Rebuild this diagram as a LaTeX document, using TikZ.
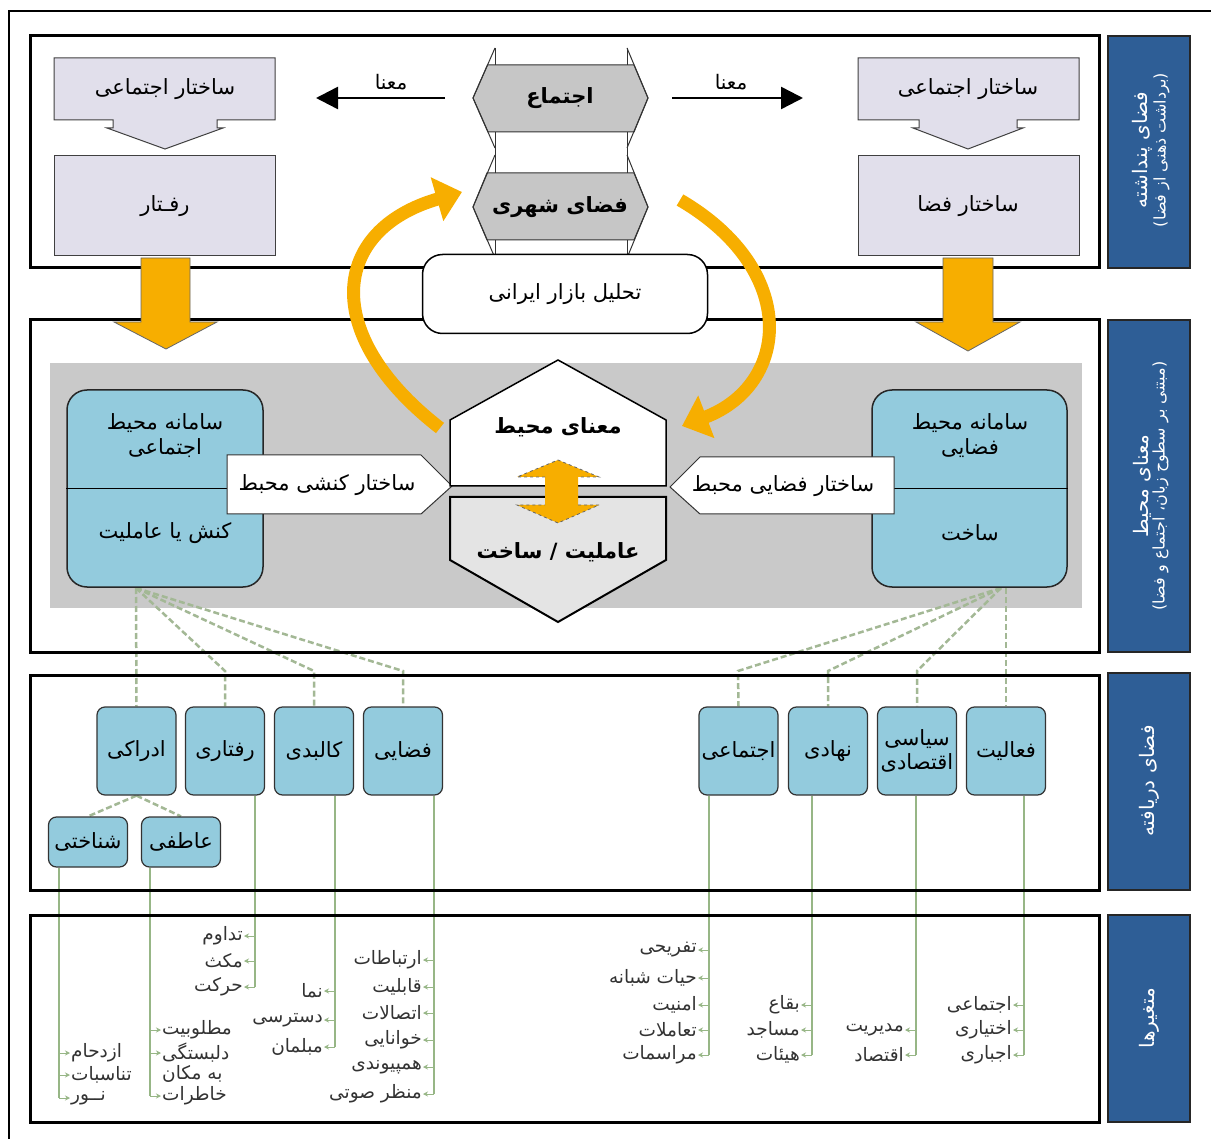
\documentclass[tikz,border=0pt]{standalone}
\usepackage{fontspec}
\setmainfont[Script=Arabic]{DejaVu Sans}
\TeXXeTstate=1
\usetikzlibrary{arrows.meta,calc}
\newcommand\fa[1]{\beginR #1\endR}
\newcommand\fsA{\fontsize{21}{25}\selectfont}
\newcommand\fsB{\fontsize{21}{24}\selectfont}
\newcommand\fsC{\fontsize{18.5}{20}\selectfont}
\newcommand\fsT{\fontsize{20}{23}\selectfont}
\newcommand\fsD{\fontsize{16}{19}\selectfont}
\newcommand\fsH{\fontsize{21}{25}\selectfont\bfseries}
\definecolor{lavc}{HTML}{E1DFEB}
\definecolor{hexgray}{HTML}{C6C6C6}
\definecolor{areagray}{HTML}{C9C9C9}
\definecolor{lowgray}{HTML}{E4E4E4}
\definecolor{lbluec}{HTML}{93CBDD}
\definecolor{navyc}{HTML}{2E5E96}
\definecolor{orng}{HTML}{F7AE00}
\definecolor{grnc}{HTML}{97B686}
\definecolor{dgrnc}{HTML}{A3B895}
\pgfdeclarelayer{bgzero}
\pgfdeclarelayer{bgone}
\pgfsetlayers{bgzero,bgone,main}
\begin{document}
\begin{tikzpicture}[x=1pt,y=-1pt,
  panel/.style={draw=black,line width=3pt},
  navybox/.style={draw=black!85,fill=navyc,line width=1.5pt},
  lavbox/.style={draw=black!75,fill=lavc,line width=1pt},
  txt/.style={inner sep=1pt,font=\fsA},
  cat/.style={draw=black!80,fill=lbluec,rounded corners=8pt,line width=1.2pt,minimum width=79pt,minimum height=88pt,inner sep=0pt,font=\fsB,align=center},
  subcat/.style={cat,minimum height=50pt},
  bluebig/.style={draw=black!85,fill=lbluec,rounded corners=20pt,line width=1.5pt,minimum width=196pt,minimum height=197pt,inner sep=0pt},
  ptr/.style={draw=black!80,fill=white,line width=1pt},
  dline/.style={draw=dgrnc,line width=2.5pt,dash pattern=on 6pt off 3pt},
  gline/.style={draw=grnc,line width=1.5pt},
  stub/.style={draw=grnc,line width=1pt,-{Stealth[length=5pt,width=5pt]}},
  itemL/.style={anchor=east,inner sep=1pt,font=\fsC,text=black!80},
  itemR/.style={anchor=west,inner sep=1pt,font=\fsC,text=black!80,align=left},
  vlabel/.style={rotate=90,text=white,align=center,inner sep=0pt},
  orarrow/.style={draw=black!60,fill=orng,line width=0.8pt},
  arc/.style={draw=orng,line width=13pt,-{Triangle[length=26pt,width=44pt]}},
  hexl/.style={draw=black!80,line width=1pt}
]
\useasboundingbox (0,0) rectangle (1211,1139);
\begin{pgfonlayer}{bgzero}
\fill[white] (0,0) rectangle (1211,1139);
\fill[areagray] (50,363) rectangle (1082,608);
\end{pgfonlayer}
\draw[line width=1.5pt] (1211,11) -- (9,11) -- (9,1139);
% panels
\draw[panel] (30,36) rectangle (1099,268);
\draw[panel] (30,320) rectangle (1099,652);
\draw[panel] (30,675) rectangle (1099,890);
\draw[panel] (30,915) rectangle (1099,1122);
% side labels
\draw[navybox] (1108,36) rectangle (1190,268);
\draw[navybox] (1108,320) rectangle (1190,652);
\draw[navybox] (1108,673) rectangle (1190,890);
\draw[navybox] (1108,915) rectangle (1190,1122);
\node[vlabel] (lab1) at (1151,150) {{\fsT\fa{فضای پنداشته}}\\{\fsD\fa{(برداشت ذهنی از فضا)}}};
\node[vlabel] (lab2) at (1151,486) {{\fsT\fa{معنای محیط}}\\{\fsD\fa{(مبتنی بر سطوح زبان، اجتماع و فضا)}}};
\node[vlabel,font=\fsT] (lab3) at (1149,781) {\fa{فضای دریافته}};
\node[vlabel,font=\fsT] (lab4) at (1149,1018) {\fa{متغیرها}};
% panel 1 left
\draw[lavbox] (54,58) -- (275,58) -- (275,120) -- (217,120) -- (217,128) -- (223,128) -- (165,149) -- (107,128) -- (113,128) -- (113,120) -- (54,120) -- cycle;
\node[txt] (lt1) at (165,89) {\fa{ساختار اجتماعی}};
\draw[lavbox] (54,156) rectangle (275,256);
\node[txt] (lt2) at (165,206) {\fa{رفـتار}};
% panel 1 right
\draw[lavbox] (858,58) -- (1079,58) -- (1079,120) -- (1017,120) -- (1017,128) -- (1023,128) -- (968,149) -- (913,128) -- (919,128) -- (919,120) -- (858,120) -- cycle;
\node[txt] (rt1) at (968,89) {\fa{ساختار اجتماعی}};
\draw[lavbox] (858,156) rectangle (1079,256);
\node[txt] (rt2) at (968,206) {\fa{ساختار فضا}};
% center hexes panel 1
\fill[white] (495,48) rectangle (627,258);
\draw[hexl,fill=hexgray] (487.5,65) -- (634,65) -- (648,98) -- (634,132) -- (488,132) -- (473,98) -- cycle;
\draw[hexl,fill=hexgray] (487,173) -- (634,173) -- (648,207) -- (634,240) -- (487,240) -- (473,207) -- cycle;
\draw[hexl] (495,48) -- (473,98) -- (495,148);
\draw[hexl] (627,48) -- (648,98) -- (627,148);
\draw[hexl] (495,155) -- (473,207) -- (495,258);
\draw[hexl] (627,155) -- (648,207) -- (627,258);
\draw[hexl] (495,48) -- (495,65) (627,48) -- (627,65);
\draw[hexl] (495,132) -- (495,173) (627,132) -- (627,173);
\draw[hexl] (495,240) -- (495,258) (627,240) -- (627,258);
\node[txt,font=\fsH] (ejtm) at (560,98) {\fa{اجتماع}};
\node[txt,font=\fsH] (fsh) at (560,207) {\fa{فضای شهری}};
% meaning arrows
\node[txt,font=\fsT] (mL) at (391,82) {\fa{معنا}};
\node[txt,font=\fsT] (mR) at (731,82) {\fa{معنا}};
\coordinate (aL1) at (445,98); \coordinate (aL2) at (316,98);
\coordinate (aR1) at (672,98); \coordinate (aR2) at (803,98);
\draw[line width=2.5pt,-{Triangle[length=22pt,width=22pt]}] (aL1) -- (aL2);
\draw[line width=2.5pt,-{Triangle[length=22pt,width=22pt]}] (aR1) -- (aR2);
% orange down arrows
\draw[orarrow] (141,258) -- (190,258) -- (190,322) -- (217,322) -- (166,349) -- (114,322) -- (141,322) -- cycle;
\draw[orarrow] (943,258) -- (993,258) -- (993,322) -- (1020,322) -- (968,351) -- (916,322) -- (943,322) -- cycle;
% tahlil
\node[draw,line width=1.5pt,fill=white,rounded corners=20pt,minimum width=285pt,minimum height=79pt,font=\fsA] (tahlil) at (565,294) {\fa{تحلیل بازار ایرانی}};
% panel 2
\node[bluebig] (lbox) at (165,488.5) {};
\draw[line width=1.5pt] (lbox.west) -- (lbox.east);
\node[txt,align=center] (lb1) at (165,436) {\fa{سامانه محیط}\\\fa{اجتماعی}};
\node[txt] (lb2) at (165,533) {\fa{کنش یا عاملیت}};
\node[bluebig,minimum width=195pt] (rbox) at (969.5,488.5) {};
\draw[line width=1.5pt] (rbox.west) -- (rbox.east);
\node[txt,align=center] (rb1) at (970,436) {\fa{سامانه محیط}\\\fa{فضایی}};
\node[txt] (rb2) at (970,533) {\fa{ساخت}};
\draw[ptr] (227,455) -- (421,455) -- (452,486) -- (421,514) -- (227,514) -- cycle;
\node[txt] (p1) at (327,485) {\fa{ساختار کنشی محبط}};
\draw[ptr] (894,457) -- (700,457) -- (670,487) -- (700,514) -- (894,514) -- cycle;
\node[txt] (p2) at (783,486) {\fa{ساختار فضایی محبط}};
\draw[line width=1.5pt,fill=white] (450,486) -- (450,420) -- (558,360) -- (666,420) -- (666,486) -- cycle;
\draw[line width=2pt,fill=lowgray] (450,497) -- (666,497) -- (666,560) -- (558,622) -- (450,560) -- cycle;
\node[txt,font=\fsH] (hm) at (558,427) {\fa{معنای محیط}};
\node[txt,font=\fsH] (ha) at (558,552) {\fa{عاملیت / ساخت}};
\fill[orng] (545,477) -- (517,477) -- (558,460) -- (599,477) -- (578,477) -- (578,505) -- (599,505) -- (558,523) -- (517,505) -- (545,505) -- cycle;
\draw[black!60,dashed,line width=0.8pt] (545,477) -- (517,477) -- (558,460) -- (599,477) -- (578,477);
\draw[black!60,dashed,line width=0.8pt] (578,505) -- (599,505) -- (558,523) -- (517,505) -- (545,505);
% orange arcs
\coordinate (arcL1) at (440,428); \coordinate (arcL2) at (462,192);
\coordinate (arcR1) at (680,200); \coordinate (arcR2) at (682,426);
\draw[arc] (arcL1) .. controls (320,335) and (330,230) .. (arcL2);
\draw[arc] (arcR1) .. controls (800,270) and (790,385) .. (arcR2);
% panel 3 categories
\node[cat] (adrak) at (136.5,751) {\fa{ادراکی}};
\node[cat] (raft) at (225,751) {\fa{رفتاری}};
\node[cat] (kalb) at (314,751) {\fa{کالبدی}};
\node[cat] (faza) at (403,751) {\fa{فضایی}};
\node[subcat] (shen) at (88,842) {\fa{شناختی}};
\node[subcat] (atef) at (181,842) {\fa{عاطفی}};
\node[cat] (ejt) at (738.5,751) {\fa{اجتماعی}};
\node[cat] (nahad) at (828,751) {\fa{نهادی}};
\node[cat] (siasi) at (917,751) {\fa{سیاسی}\\\fa{اقتصادی}};
\node[cat] (faal) at (1006,751) {\fa{فعالیت}};
% items
\node[itemL] (r1) at (244,936) {\fa{تداوم}};
\node[itemL] (r2) at (244,961) {\fa{مکث}};
\node[itemL] (r3) at (244,987) {\fa{حرکت}};
\node[itemL] (k1) at (324,991) {\fa{نما}};
\node[itemL] (k2) at (324,1020) {\fa{دسترسی}};
\node[itemL] (k3) at (324,1047) {\fa{مبلمان}};
\node[itemL] (f1) at (423,960) {\fa{ارتباطات}};
\node[itemL] (f2) at (423,987) {\fa{قابلیت}};
\node[itemL] (f3) at (423,1013) {\fa{اتصالات}};
\node[itemL] (f4) at (423,1040) {\fa{خوانایی}};
\node[itemL] (f5) at (423,1067) {\fa{همپیوندی}};
\node[itemL] (f6) at (423,1094) {\fa{منظر صوتی}};
\node[itemR] (s1) at (70,1053) {\fa{ازدحام}};
\node[itemR] (s2) at (70,1075) {\fa{تناسبات}};
\node[itemR] (s3) at (70,1098) {\fa{نــور}};
\node[itemR] (a1) at (161,1030) {\fa{مطلوبیت}};
\node[itemR,anchor=north west] (a2) at (161,1042) {\fa{دلبستگی}\\\fa{به مکان}};
\node[itemR] (a3) at (161,1096) {\fa{خاطرات}};
\node[itemL] (e1) at (698,950) {\fa{تفریحی}};
\node[itemL] (e2) at (698,978) {\fa{حیات شبانه}};
\node[itemL] (e3) at (698,1005) {\fa{امنیت}};
\node[itemL] (e4) at (698,1030) {\fa{تعاملات}};
\node[itemL] (e5) at (698,1055) {\fa{مراسمات}};
\node[itemL] (n1) at (801,1005) {\fa{بقاع}};
\node[itemL] (n2) at (801,1030) {\fa{مساجد}};
\node[itemL] (n3) at (801,1055) {\fa{هیئات}};
\node[itemL] (q1) at (905,1030) {\fa{مدیریت}};
\node[itemL] (q2) at (905,1055) {\fa{اقتصاد}};
\node[itemL] (t1) at (1013,1005) {\fa{اجتماعی}};
\node[itemL] (t2) at (1013,1030) {\fa{اختیاری}};
\node[itemL] (t3) at (1013,1055) {\fa{اجباری}};
\begin{pgfonlayer}{bgone}
\coordinate (lsrc) at (136,588);
\coordinate (rsrc) at (1001,588);
\draw[dline] (lsrc) -- (adrak.north);
\draw[dline] (lsrc) -- (225,671) -- (raft.north);
\draw[dline] (lsrc) -- (314,671) -- (kalb.north);
\draw[dline] (lsrc) -- (403,671) -- (faza.north);
\draw[dline] (rsrc) -- (738,671) -- (ejt.north);
\draw[dline] (rsrc) -- (828,671) -- (nahad.north);
\draw[dline] (rsrc) -- (917,671) -- (siasi.north);
\draw[dline] (1006,588) -- (faal.north);
\draw[dline] (adrak.south) -- (shen.north);
\draw[dline] (adrak.south) -- (atef.north);
\draw[gline] (raft.south -| 255,0) -- (r3.east -| 255,0);
\draw[gline] (kalb.south -| 335,0) -- (k3.east -| 335,0);
\draw[gline] (faza.south -| 434,0) -- (f6.east -| 434,0);
\draw[gline] (shen.south -| 59,0) -- (s3.west -| 59,0);
\draw[gline] (atef.south -| 150,0) -- (a3.west -| 150,0);
\draw[gline] (ejt.south -| 709,0) -- (e5.east -| 709,0);
\draw[gline] (nahad.south -| 812,0) -- (n3.east -| 812,0);
\draw[gline] (siasi.south -| 916,0) -- (q2.east -| 916,0);
\draw[gline] (faal.south -| 1024,0) -- (t3.east -| 1024,0);
\foreach \n in {r1,r2,r3} \draw[stub] (\n.east -| 255,0) -- (\n.east);
\foreach \n in {k1,k2,k3} \draw[stub] (\n.east -| 335,0) -- (\n.east);
\foreach \n in {f1,f2,f3,f4,f5,f6} \draw[stub] (\n.east -| 434,0) -- (\n.east);
\foreach \n in {e1,e2,e3,e4,e5} \draw[stub] (\n.east -| 709,0) -- (\n.east);
\foreach \n in {n1,n2,n3} \draw[stub] (\n.east -| 812,0) -- (\n.east);
\foreach \n in {q1,q2} \draw[stub] (\n.east -| 916,0) -- (\n.east);
\foreach \n in {t1,t2,t3} \draw[stub] (\n.east -| 1024,0) -- (\n.east);
\foreach \n in {s1,s2,s3} \draw[stub] (\n.west -| 59,0) -- (\n.west);
\foreach \n in {a1,a3} \draw[stub] (\n.west -| 150,0) -- (\n.west);
\draw[stub] (150,1053) -- (a2.north west |- 0,1053);
\end{pgfonlayer}
\end{tikzpicture}
\end{document}
